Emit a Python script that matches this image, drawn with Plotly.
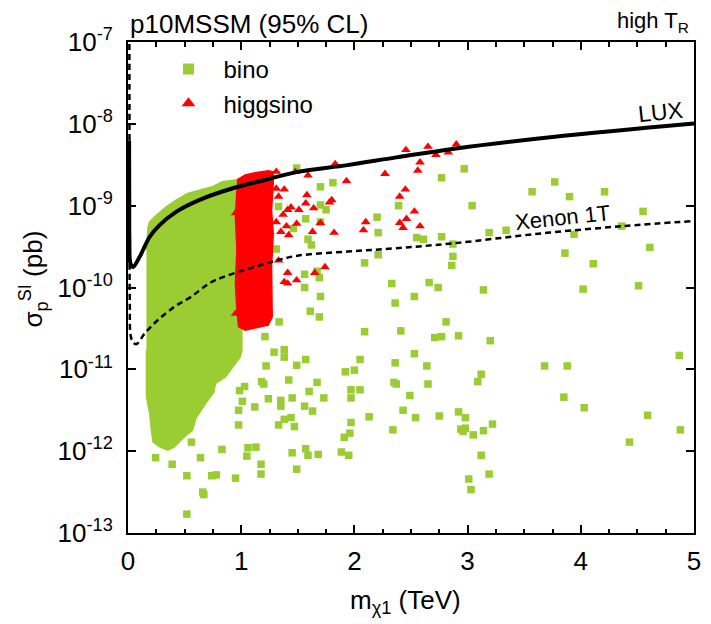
import plotly.graph_objects as go

# ---------------------------------------------------------------
# p10MSSM scan, spin-independent neutralino-proton cross section
# mass of the lightest neutralino in TeV, cross section in pb
# ---------------------------------------------------------------

# isolated bino-like points
bino_mass = [
    2.77, 2.97, 3.77, 3.57, 3.90, 4.21, 2.39, 3.04, 4.55, 2.21,
    2.20, 2.55, 2.61, 2.77, 2.87, 3.19, 3.34, 3.94, 4.36, 2.21,
    2.87, 2.86, 3.86, 4.11, 4.61, 2.33, 2.66, 2.74, 2.53, 2.36,
    3.14, 4.02, 4.51, 2.81, 2.41, 2.71, 2.77, 2.92, 3.20, 2.53,
    2.36, 2.64, 3.12, 3.09, 3.68, 3.88, 4.87, 2.37, 2.65, 2.49,
    3.85, 4.03, 2.43, 2.54, 2.75, 2.92, 2.98, 3.22, 2.34, 2.94,
    2.98, 2.96, 3.05, 3.14, 4.59, 4.43, 4.88, 3.01, 3.03, 3.12,
    3.19, 1.49, 1.81, 1.70, 1.70, 1.75, 1.33, 1.57, 1.70, 1.46,
    1.59, 1.62, 1.31, 2.09, 1.56, 1.67, 1.69, 1.56, 1.70, 1.61,
    1.69, 1.335, 1.21, 2.09, 1.29, 1.38, 1.38, 1.57, 1.49, 2.05,
    1.22, 1.92, 2.00, 1.42, 1.67, 0.985, 1.03, 1.18, 1.20, 1.60,
    1.97, 2.05, 2.35, 0.977, 1.01, 1.12, 1.24, 1.35, 1.35, 1.45,
    1.56, 1.63, 1.73, 1.97, 0.977, 1.33, 1.38, 1.44, 1.47, 1.97,
    2.13, 1.91, 1.96, 0.56, 0.244, 0.39, 0.64, 0.83, 1.06, 1.13,
    1.05, 1.175, 1.175, 1.45, 1.57, 1.59, 1.68, 1.885, 1.95, 1.49,
    0.52, 0.74, 0.78, 0.95, 0.66, 0.67, 0.52,
]
bino_sigma = [
    2.19e-9, 2.82e-9, 1.95e-9, 1.48e-9, 1.29e-9, 1.48e-9, 1.00e-9, 1.00e-9, 8.51e-10, 4.68e-10,
    7.24e-10, 4.07e-10, 3.89e-10, 4.17e-10, 3.39e-10, 4.68e-10, 5.01e-10, 4.47e-10, 5.62e-10, 2.51e-10,
    2.40e-10, 1.86e-10, 2.63e-10, 1.95e-10, 3.09e-10, 1.12e-10, 1.15e-10, 1.00e-10, 7.76e-11, 6.46e-11,
    9.33e-11, 9.55e-11, 1.05e-10, 3.80e-11, 2.95e-11, 2.45e-11, 2.51e-11, 2.57e-11, 2.24e-11, 1.55e-11,
    1.20e-11, 1.10e-11, 8.71e-12, 7.08e-12, 1.10e-11, 1.10e-11, 1.48e-11, 6.61e-12, 6.61e-12, 4.79e-12,
    4.57e-12, 3.39e-12, 3.16e-12, 2.57e-12, 2.69e-12, 3.02e-12, 2.57e-12, 2.14e-12, 1.82e-12, 1.86e-12,
    1.91e-12, 1.74e-12, 1.58e-12, 1.78e-12, 2.75e-12, 1.29e-12, 1.82e-12, 4.57e-13, 3.39e-13, 8.91e-13,
    5.25e-13, 2.88e-9, 1.91e-9, 1.70e-9, 1.02e-9, 8.91e-10, 9.77e-10, 6.92e-10, 6.31e-10, 5.25e-10,
    3.89e-10, 3.31e-10, 2.95e-10, 2.00e-10, 1.45e-10, 1.58e-10, 1.32e-10, 1.00e-10, 7.76e-11, 5.13e-11,
    4.37e-11, 3.80e-11, 2.51e-11, 2.88e-11, 1.62e-11, 1.74e-11, 1.41e-11, 1.32e-11, 1.12e-11, 1.32e-11,
    1.10e-11, 9.33e-12, 9.77e-12, 7.41e-12, 6.92e-12, 5.50e-12, 6.17e-12, 7.08e-12, 6.61e-12, 5.37e-12,
    5.62e-12, 5.62e-12, 6.92e-12, 3.16e-12, 4.07e-12, 3.47e-12, 4.37e-12, 4.17e-12, 3.55e-12, 4.47e-12,
    3.55e-12, 3.09e-12, 4.47e-12, 4.47e-12, 2.09e-12, 2.09e-12, 2.45e-12, 2.57e-12, 2.00e-12, 2.24e-12,
    2.63e-12, 1.48e-12, 1.66e-12, 1.29e-12, 8.32e-13, 6.92e-13, 8.32e-13, 1.05e-12, 1.10e-12, 1.12e-12,
    8.71e-13, 6.92e-13, 5.25e-13, 9.55e-13, 1.07e-12, 8.91e-13, 9.12e-13, 9.77e-13, 8.91e-13, 6.03e-13,
    5.01e-13, 5.01e-13, 5.13e-13, 4.68e-13, 3.16e-13, 2.95e-13, 1.70e-13,
]

# isolated higgsino-like points
higgsino_mass = [
    2.455, 2.65, 2.72, 2.83, 2.90, 2.58, 2.56, 2.27, 2.45, 2.40,
    2.53, 2.46, 2.40, 2.43, 2.58, 1.31, 1.48, 1.59, 1.83, 1.93,
    1.31, 1.38, 1.33, 1.58, 1.44, 1.51, 1.41, 1.57, 1.64, 1.78,
    1.80, 1.37, 1.31, 1.40, 1.49, 1.35, 1.42, 1.63, 1.82, 2.08,
    2.10, 1.33, 1.41, 1.38, 1.41, 1.49, 1.65, 1.74, 0.95, 0.95,
    1.70,
]
higgsino_sigma = [
    4.79e-9, 5.25e-9, 4.17e-9, 4.47e-9, 5.62e-9, 3.39e-9, 2.69e-9, 2.45e-9, 1.58e-9, 1.29e-9,
    8.51e-10, 6.92e-10, 6.17e-10, 5.37e-10, 5.62e-10, 2.60e-9, 2.60e-9, 2.34e-9, 3.24e-9, 2.00e-9,
    1.62e-9, 1.58e-9, 1.29e-9, 1.35e-9, 9.55e-10, 8.91e-10, 8.91e-10, 1.07e-9, 9.33e-10, 1.10e-9,
    1.17e-9, 7.76e-10, 6.31e-10, 5.62e-10, 6.03e-10, 4.79e-10, 4.37e-10, 4.79e-10, 4.68e-10, 5.01e-10,
    6.31e-10, 2.14e-10, 1.51e-10, 1.17e-10, 1.12e-10, 1.23e-10, 1.51e-10, 1.78e-10, 8.13e-10, 4.79e-11,
    6.17e-10,
]

# outline of the densely populated bino region
bino_region_mass = [
    0.163, 0.177, 0.192, 0.236, 0.338, 0.425, 0.526, 0.628, 0.744, 0.832,
    0.949, 1.003, 1.006, 1.006, 0.992, 0.934, 0.890, 0.861, 0.774, 0.759,
    0.687, 0.599, 0.570, 0.483, 0.410, 0.352, 0.279, 0.221, 0.207, 0.192,
    0.163, 0.163,
]
bino_region_sigma = [
    2.86e-10, 5.52e-10, 6.35e-10, 7.31e-10, 9.70e-10, 1.17e-9, 1.41e-9, 1.55e-9, 1.70e-9, 1.96e-9,
    2.06e-9, 2.06e-9, 2.49e-11, 1.72e-11, 1.42e-11, 1.12e-11, 9.33e-12, 8.09e-12, 6.73e-12, 5.31e-12,
    3.83e-12, 2.51e-12, 1.81e-12, 1.43e-12, 1.13e-12, 1.03e-12, 1.13e-12, 1.30e-12, 1.81e-12, 2.89e-12,
    4.61e-12, 1.72e-11,
]

# outline of the densely populated higgsino band
higgsino_region_mass = [
    0.962, 1.036, 1.123, 1.239, 1.283, 1.283, 1.268, 1.283, 1.268, 1.268,
    1.274, 1.239, 1.123, 1.036, 0.977, 0.962, 0.949, 0.962, 0.949, 0.962,
]
higgsino_region_sigma = [
    2.06e-9, 2.37e-9, 2.52e-9, 2.67e-9, 2.59e-9, 1.87e-9, 8.83e-10, 4.58e-10, 1.79e-10, 7.01e-11,
    4.39e-11, 3.47e-11, 3.16e-11, 3.01e-11, 3.31e-11, 5.30e-11, 1.12e-10, 2.86e-10, 7.31e-10, 1.55e-9,
]

# direct detection limits
lux_mass = [0.0095, 0.011, 0.012, 0.02, 0.035, 0.046, 0.105, 0.192, 0.279, 0.425,
            0.628, 0.919, 1.21, 1.50, 1.94, 2.37, 2.90, 3.77, 5.0]
lux_sigma = [6.31e-9, 1.26e-9, 3.98e-10, 2.00e-10, 1.82e-10, 1.78e-10, 2.40e-10, 4.17e-10, 5.79e-10, 8.41e-10,
             1.17e-9, 1.62e-9, 2.06e-9, 2.59e-9, 3.13e-9, 3.89e-9, 5.01e-9, 6.95e-9, 1.01e-8]

xenon_mass = [0.012, 0.014, 0.016, 0.025, 0.05, 0.076, 0.148, 0.262, 0.41, 0.556,
              0.73, 0.846, 1.137, 1.341, 1.5, 1.94, 2.37, 2.87, 3.65, 4.38, 5.0]
xenon_sigma = [1.26e-7, 1.0e-9, 6.31e-11, 2.51e-11, 2.09e-11, 2.04e-11, 2.75e-11, 3.98e-11, 5.81e-11, 7.69e-11,
               1.15e-10, 1.35e-10, 1.82e-10, 2.19e-10, 2.45e-10, 2.75e-10, 3.02e-10, 3.46e-10, 4.58e-10, 5.64e-10, 6.49e-10]

y_tick_values = [1e-13, 1e-12, 1e-11, 1e-10, 1e-9, 1e-8, 1e-7]
y_tick_text = ["10<sup>-13</sup>", "10<sup>-12</sup>", "10<sup>-11</sup>", "10<sup>-10</sup>",
               "10<sup>-9</sup>", "10<sup>-8</sup>", "10<sup>-7</sup>"]
x_tick_values = [0, 1, 2, 3, 4, 5]

GREEN = "#9acd32"
RED = "#ff0000"
FONT = "Liberation Sans, Arial, sans-serif"

fig = go.Figure()

# dense regions as filled outlines
fig.add_trace(go.Scatter(
    x=bino_region_mass, y=bino_region_sigma, mode="lines", fill="toself",
    fillcolor=GREEN, line=dict(color=GREEN, width=1.5), showlegend=False, hoverinfo="skip"))
fig.add_trace(go.Scatter(
    x=bino_mass, y=bino_sigma, mode="markers",
    marker=dict(symbol="square", size=7.5, color=GREEN), showlegend=False))
fig.add_trace(go.Scatter(
    x=higgsino_region_mass, y=higgsino_region_sigma, mode="lines", fill="toself",
    fillcolor=RED, line=dict(color=RED, width=1.5), showlegend=False, hoverinfo="skip"))
fig.add_trace(go.Scatter(
    x=higgsino_mass, y=higgsino_sigma, mode="markers",
    marker=dict(symbol="triangle-up", size=8.5, color=RED), showlegend=False))

# experimental limits
fig.add_trace(go.Scatter(
    x=lux_mass, y=lux_sigma, mode="lines", line=dict(color="black", width=4),
    line_shape="spline", showlegend=False))
fig.add_trace(go.Scatter(
    x=xenon_mass, y=xenon_sigma, mode="lines",
    line=dict(color="black", width=2.5, dash="6px,4px"),
    line_shape="spline", showlegend=False))

# legend entries
fig.add_trace(go.Scatter(
    x=[None], y=[None], mode="markers", name="bino",
    marker=dict(symbol="square", size=11, color=GREEN)))
fig.add_trace(go.Scatter(
    x=[None], y=[None], mode="markers", name="higgsino",
    marker=dict(symbol="triangle-up", size=12, color=RED)))

axis_common = dict(
    showline=True, linecolor="black", linewidth=2, mirror="allticks",
    ticks="inside", tickcolor="black", tickwidth=1.5, ticklen=8,
    showgrid=False, zeroline=False,
    tickfont=dict(family=FONT, size=26, color="black"),
)

fig.update_layout(
    width=711, height=624,
    margin=dict(l=128, r=10, t=42, b=91, pad=0),
    paper_bgcolor="white", plot_bgcolor="white",
    font=dict(family=FONT, size=24, color="black"),
    xaxis=dict(range=[0, 5], tickvals=x_tick_values, ticklabelstandoff=4,
               minor=dict(dtick=0.25, ticks="inside", ticklen=4.5, tickwidth=1.5,
                          tickcolor="black", showgrid=False),
               **axis_common),
    yaxis=dict(type="log", range=[-13, -7], tickvals=y_tick_values, ticktext=y_tick_text,
               ticklabelstandoff=8, **axis_common),
    legend=dict(x=0.045, y=0.99, xanchor="left", yanchor="top",
                bgcolor="rgba(0,0,0,0)", font=dict(family=FONT, size=24),
                itemwidth=60, tracegroupgap=0),
    showlegend=True,
    annotations=[
        dict(text="p10MSSM (95% CL)", xref="paper", yref="paper", x=0, y=1,
             xanchor="left", yanchor="bottom", yshift=1, showarrow=False,
             font=dict(family=FONT, size=26)),
        dict(text="high T<sub>R</sub>", xref="paper", yref="paper", x=0.995, y=1,
             xanchor="right", yanchor="bottom", yshift=4, showarrow=False,
             font=dict(family=FONT, size=22)),
        dict(text="LUX", xref="x", yref="y", x=4.7, y=-7.86, textangle=-6,
             showarrow=False, font=dict(family=FONT, size=23)),
        dict(text="Xenon 1T", xref="x", yref="y", x=3.84, y=-9.15, textangle=-6,
             showarrow=False, font=dict(family=FONT, size=22)),
        dict(text="m<sub>χ1</sub> (TeV)", xref="paper", yref="paper", x=0.49, y=0,
             xanchor="center", yanchor="middle", yshift=-68, showarrow=False,
             font=dict(family=FONT, size=26)),
        dict(text="σ<sub>p</sub><sup>SI</sup> (pb)", xref="paper", yref="paper", x=0, y=0.5,
             xanchor="center", yanchor="middle", xshift=-95, yshift=8, textangle=-90,
             showarrow=False, font=dict(family=FONT, size=26)),
    ],
)

fig.write_html("out.html")
